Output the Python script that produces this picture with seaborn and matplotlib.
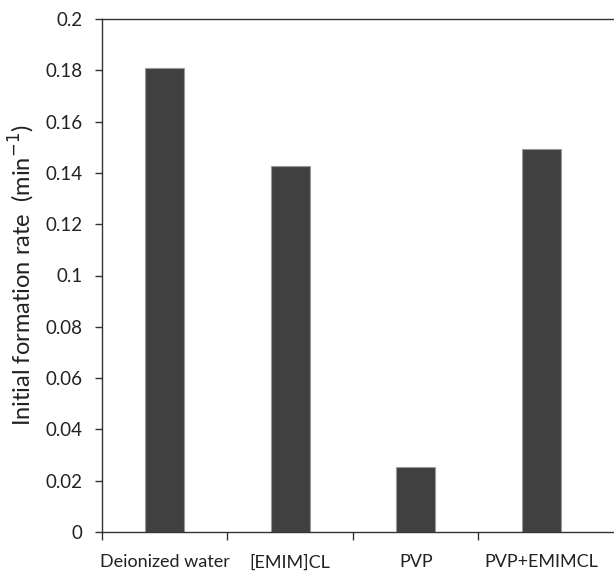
import matplotlib
matplotlib.use("Agg")
import matplotlib.pyplot as plt
import seaborn as sns
import pandas as pd

categories = ["Deionized water", "[EMIM]CL", "PVP", "PVP+EMIMCL"]
rates = [0.181, 0.1425, 0.0255, 0.1495]
y_ticks = [0, 0.02, 0.04, 0.06, 0.08, 0.1, 0.12, 0.14, 0.16, 0.18, 0.2]
y_tick_labels = ["0", "0.02", "0.04", "0.06", "0.08", "0.1", "0.12", "0.14", "0.16", "0.18", "0.2"]

df = pd.DataFrame({"cond": categories, "rate": rates})

sns.set_style("white")
plt.rcParams['font.family'] = ['Lato', 'DejaVu Sans']

fig = plt.figure(figsize=(6.14, 5.73), dpi=100)
ax = fig.add_axes([102 / 614, 1 - 532 / 573, 1 - 102 / 614, (532 - 19) / 573])

sns.barplot(data=df, x="cond", y="rate", color="#404040", saturation=1,
            width=0.31, edgecolor="#9a9a9a", linewidth=0.8, ax=ax)

ax.set_xlim(-0.5, 3.58)
ax.set_ylim(0, 0.2)
ax.set_yticks(y_ticks)
ax.set_yticklabels(y_tick_labels)
ax.set_xlabel("")
ax.set_ylabel("Initial formation rate  (min$^{-1}$)", fontsize=17, color="#222222", labelpad=6)

# category boundaries get the tick marks, labels sit in between
ax.set_xticks([-0.5, 0.5, 1.5, 2.5], minor=True)
ax.tick_params(axis="x", which="minor", direction="out", length=6, width=1, color="#333333", bottom=True)
ax.tick_params(axis="x", which="major", length=0, pad=16, labelsize=13, labelcolor="#222222")
ax.tick_params(axis="y", direction="out", length=5, width=1, color="#333333", left=True,
               labelsize=13.5, labelcolor="#222222", pad=9)

for side in ["left", "bottom", "top"]:
    ax.spines[side].set_color("#333333")
    ax.spines[side].set_linewidth(1)
ax.spines["right"].set_visible(False)

fig.savefig("out.png", dpi=100)
